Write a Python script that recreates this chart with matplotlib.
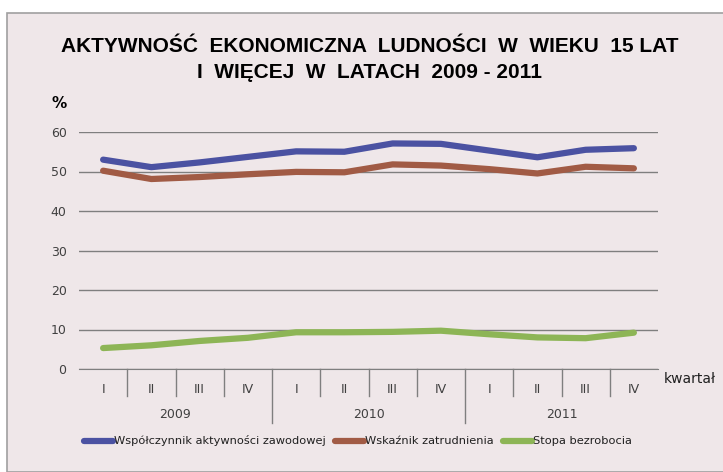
import matplotlib.pyplot as plt
from matplotlib.patches import Rectangle

# Dane
kwartaly = ['I', 'II', 'III', 'IV'] * 3
lata = ['2009', '2010', '2011']
aktywnosc = [53.0, 51.1, 52.3, 53.7, 55.1, 55.0, 57.1, 57.0, 55.3, 53.6, 55.5, 55.9]
zatrudnienie = [50.2, 48.1, 48.6, 49.3, 49.9, 49.8, 51.8, 51.5, 50.6, 49.5, 51.2, 50.8]
bezrobocie = [5.3, 6.0, 7.1, 7.9, 9.3, 9.3, 9.4, 9.7, 8.8, 8.0, 7.8, 9.2]

bg = '#EFE7E9'
W, H = 723, 472

fig = plt.figure(figsize=(W / 100, H / 100), dpi=100)
fig.patch.set_facecolor('white')
fig.patches.append(Rectangle((7 / W, 0), 1, 1 - 13 / H, transform=fig.transFigure,
                             facecolor=bg, edgecolor='#A0A0A0', linewidth=1.2, zorder=-5))

ax = fig.add_axes([79 / W, 1 - 369 / H, 579 / W, 237 / H])
ax.set_zorder(2)
ax.set_facecolor(bg)

x = list(range(len(kwartaly)))
ax.plot(x, aktywnosc, color='#4B52A2', lw=4.5, solid_capstyle='round',
        label='Współczynnik aktywności zawodowej')
ax.plot(x, zatrudnienie, color='#A15B45', lw=4.5, solid_capstyle='round',
        label='Wskaźnik zatrudnienia')
ax.plot(x, bezrobocie, color='#8DB556', lw=4.5, solid_capstyle='round',
        label='Stopa bezrobocia')

ax.set_xlim(-0.5, len(x) - 0.5)
ax.set_ylim(0, 60)
ax.set_yticks(range(0, 61, 10))
ax.yaxis.grid(True, color='#7F7F7F', lw=1)
ax.set_axisbelow(True)
for s in ['top', 'right', 'left']:
    ax.spines[s].set_visible(False)
ax.spines['bottom'].set_color('#7F7F7F')
ax.tick_params(axis='y', length=0, pad=9, labelsize=9, labelcolor='#404040')
ax.set_xticks(x)
ax.set_xticklabels(kwartaly)
ax.tick_params(axis='x', length=0, pad=10, labelsize=9, labelcolor='#404040')

# podziałki kategorii i lat
tr = ax.get_xaxis_transform()
for i in range(1, len(x)):
    dl = 54 / 237 if i % 4 == 0 else 27 / 237
    ax.plot([i - 0.5, i - 0.5], [0, -dl], transform=tr, color='#7F7F7F', lw=1, clip_on=False)
for j, rok in enumerate(lata):
    ax.text(j * 4 + 1.5, -45 / 237, rok, transform=tr, ha='center', va='center',
            fontsize=9, color='#404040')

ax.text(1.01, -10 / 237, 'kwartał', transform=ax.transAxes, ha='left', va='center',
        fontsize=10, color='#202020')
fig.text(52 / W, 1 - 103 / H, '%', fontsize=11, fontweight='bold', ha='left', va='center')

fig.text(370 / W, 1 - 46 / H, 'AKTYWNOŚĆ  EKONOMICZNA  LUDNOŚCI  W  WIEKU  15 LAT',
         ha='center', va='center', fontsize=15, fontweight='bold', family='Liberation Sans')
fig.text(370 / W, 1 - 73 / H, 'I  WIĘCEJ  W  LATACH  2009 - 2011',
         ha='center', va='center', fontsize=15, fontweight='bold', family='Liberation Sans')

leg = fig.legend(loc='center left', bbox_to_anchor=(74 / W, 1 - 441 / H), ncol=3,
                 frameon=False, handlelength=2.5, handletextpad=0.15, columnspacing=0.8,
                 prop={'size': 8.2})
for t in leg.get_texts():
    t.set_color('#202020')

plt.savefig('out.png', dpi=100, facecolor=fig.get_facecolor())
